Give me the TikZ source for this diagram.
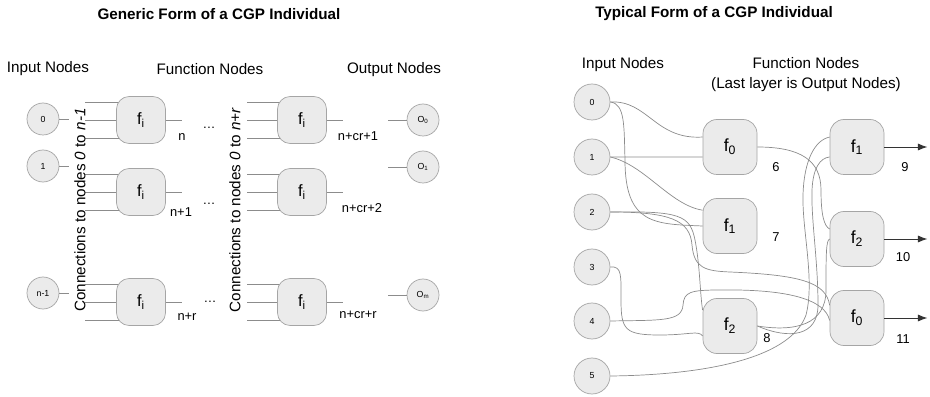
\documentclass[tikz,border=0pt]{standalone}
\usepackage{fontspec}
\setmainfont{Liberation Sans}
\usetikzlibrary{arrows.meta}
\definecolor{boxfill}{HTML}{EBEBEB}
\definecolor{boxline}{HTML}{A5A5A5}
\definecolor{wirecol}{HTML}{8C8C8C}
\begin{document}
\begin{tikzpicture}[x=0.3mm,y=-0.3mm,
  title/.style={font=\bfseries\fontsize{13}{15}\selectfont},
  heading/.style={font=\fontsize{13}{17}\selectfont,align=center},
  smallin/.style={circle,draw=boxline,fill=boxfill,line width=0.6pt,minimum size=9.6mm,inner sep=0pt,font=\fontsize{7.5}{9}\selectfont},
  bigin/.style={smallin,minimum size=10.8mm},
  fbox/.style={draw=boxline,fill=boxfill,line width=0.6pt,rounded corners=3.8mm,minimum width=14.7mm,minimum height=14.1mm,inner sep=0pt,font=\fontsize{14}{16}\selectfont},
  bigbox/.style={fbox,minimum width=16.2mm,minimum height=16.5mm,rounded corners=4.2mm,font=\fontsize{15}{17}\selectfont},
  wire/.style={draw=wirecol,line width=0.6pt},
  idx/.style={font=\fontsize{11}{13}\selectfont},
  conn/.style={rotate=90,font=\fontsize{13}{15}\selectfont},
  outarrow/.style={draw=black!80,line width=0.7pt,-{Latex[length=8pt,width=6pt]}}]
  \useasboundingbox (0,0) rectangle (930,397);

  % generic form
  \node[title] (gtitle) at (219,14) {Generic Form of a CGP Individual};
  \node[heading] (gin) at (48,69) {Input Nodes};
  \node[heading] (gfn) at (210,69) {Function Nodes};
  \node[heading] (gout) at (394,70) {Output Nodes};

  \foreach \y in {120,192,302} {
    \foreach \d in {-18,0,18} {
      \draw[wire] (85,\y) ++(0,\d) -- ++(56,0);
      \draw[wire] (247,\y) ++(0,\d) -- ++(55,0);
    }
    \draw[wire] (141,\y) -- (182,\y);
    \draw[wire] (302,\y) -- (343,\y);
  }

  \node[smallin] (g0) at (43,119) {0};
  \node[smallin] (g1) at (43,166) {1};
  \node[smallin] (gn) at (43,293) {n-1};
  \draw[wire] (g0.east) -- ++(10,0);
  \draw[wire] (g1.east) -- ++(10,0);
  \draw[wire] (gn.east) -- ++(10,0);

  \node[conn] (ca) at (80,210) {Connections to nodes \textit{0} to \textit{n-1}};
  \node[conn] (cb) at (235,210) {Connections to nodes \textit{0} to \textit{n+r}};

  \node[fbox] (fa0) at (141,120) {f\textsubscript{i}};
  \node[fbox] (fa1) at (141,192) {f\textsubscript{i}};
  \node[fbox] (fa2) at (141,302) {f\textsubscript{i}};
  \node[fbox] (fb0) at (302,120) {f\textsubscript{i}};
  \node[fbox] (fb1) at (302,192) {f\textsubscript{i}};
  \node[fbox] (fb2) at (302,302) {f\textsubscript{i}};

  \node[idx] (la0) at (182,137) {n};
  \node[idx] (la1) at (181,212) {n+1};
  \node[idx] (la2) at (187,317) {n+r};
  \node[idx] (lb0) at (358,136) {n+cr+1};
  \node[idx] (lb1) at (362,208) {n+cr+2};
  \node[idx] (lb2) at (358,315) {n+cr+r};
  \node[idx] (d0) at (209,128) {\dots};
  \node[idx] (d1) at (209,204) {\dots};
  \node[idx] (d2) at (210,302) {\dots};

  \node[smallin] (o0) at (423,120) {O\textsubscript{0}};
  \node[smallin] (o1) at (423,167) {O\textsubscript{1}};
  \node[smallin] (om) at (423,295) {O\textsubscript{m}};
  \draw[wire] (o0.west) -- ++(-19,0);
  \draw[wire] (o1.west) -- ++(-19,0);
  \draw[wire] (om.west) -- ++(-19,0);

  % typical form
  \node[title] (ttitle) at (714,14) {Typical Form of a CGP Individual};
  \node[heading] (tin) at (623,65) {Input Nodes};
  \node[heading] (tfn) at (806,75) {Function Nodes\\(Last layer is Output Nodes)};

  \foreach \i/\y in {0/102,1/157,2/212,3/267,4/321,5/376}
    \node[bigin] (r\i) at (592,\y) {\i};

  \node[bigbox] (n6) at (730,147) {f\textsubscript{0}};
  \node[bigbox] (n7) at (730,226) {f\textsubscript{1}};
  \node[bigbox] (n8) at (730,326) {f\textsubscript{2}};
  \node[bigbox] (n9) at (857,147) {f\textsubscript{1}};
  \node[bigbox] (n10) at (857,239) {f\textsubscript{2}};
  \node[bigbox] (n11) at (857,318) {f\textsubscript{0}};

  \node[idx] (l6) at (776,167) {6};
  \node[idx] (l7) at (776,237) {7};
  \node[idx] (l8) at (767,338) {8};
  \node[idx] (l9) at (905,167) {9};
  \node[idx] (l10) at (903,257) {10};
  \node[idx] (l11) at (903,339) {11};

  \draw[wire] (r0.east) .. controls (648,100) and (655,140) .. (n6.160);
  \draw[wire] (r1.east) -- (n6.200);
  \draw[wire] (r1.east) .. controls (645,165) and (670,205) .. (n7.150);
  \draw[wire] (r0.east) .. controls (625,104) and (624,125) .. (625,160)
    .. controls (625,225) and (655,224) .. (n7.west);
  \draw[wire] (r2.east) .. controls (680,211) and (690,215) .. (695,240)
    .. controls (700,265) and (700,295) .. (n8.150);
  \draw[wire] (r2.east) .. controls (670,212) and (690,220) .. (692,245)
    .. controls (694,268) and (705,271) .. (730,272)
    .. controls (800,275) and (826,282) .. (n11.155);
  \draw[wire] (r3.east) .. controls (622,266) and (621,275) .. (621,300)
    .. controls (621,330) and (625,335) .. (660,335)
    .. controls (690,335) and (698,330) .. (n8.200);
  \draw[wire] (r4.east) .. controls (660,320) and (682,322) .. (683,305)
    .. controls (684,292) and (690,290) .. (720,290)
    .. controls (790,289) and (825,300) .. (n11.185);
  \draw[wire] (r5.east) .. controls (700,375) and (790,360) .. (806,315)
    .. controls (815,280) and (802,230) .. (803,195)
    .. controls (804,160) and (815,140) .. (n9.160);
  \draw[wire] (n8.east) .. controls (790,340) and (818,336) .. (818,305)
    .. controls (818,260) and (811,220) .. (812,190)
    .. controls (813,168) and (820,158) .. (n9.200);
  \draw[wire] (n8.east) .. controls (795,332) and (826,325) .. (826,290)
    .. controls (826,255) and (826,240) .. (n10.west);
  \draw[wire] (n6.east) .. controls (800,147) and (821,160) .. (821,190)
    .. controls (821,215) and (824,226) .. (n10.160);

  \draw[outarrow] (n9.east) -- ++(43,0);
  \draw[outarrow] (n10.east) -- ++(43,0);
  \draw[outarrow] (n11.east) -- ++(43,0);
\end{tikzpicture}
\end{document}
